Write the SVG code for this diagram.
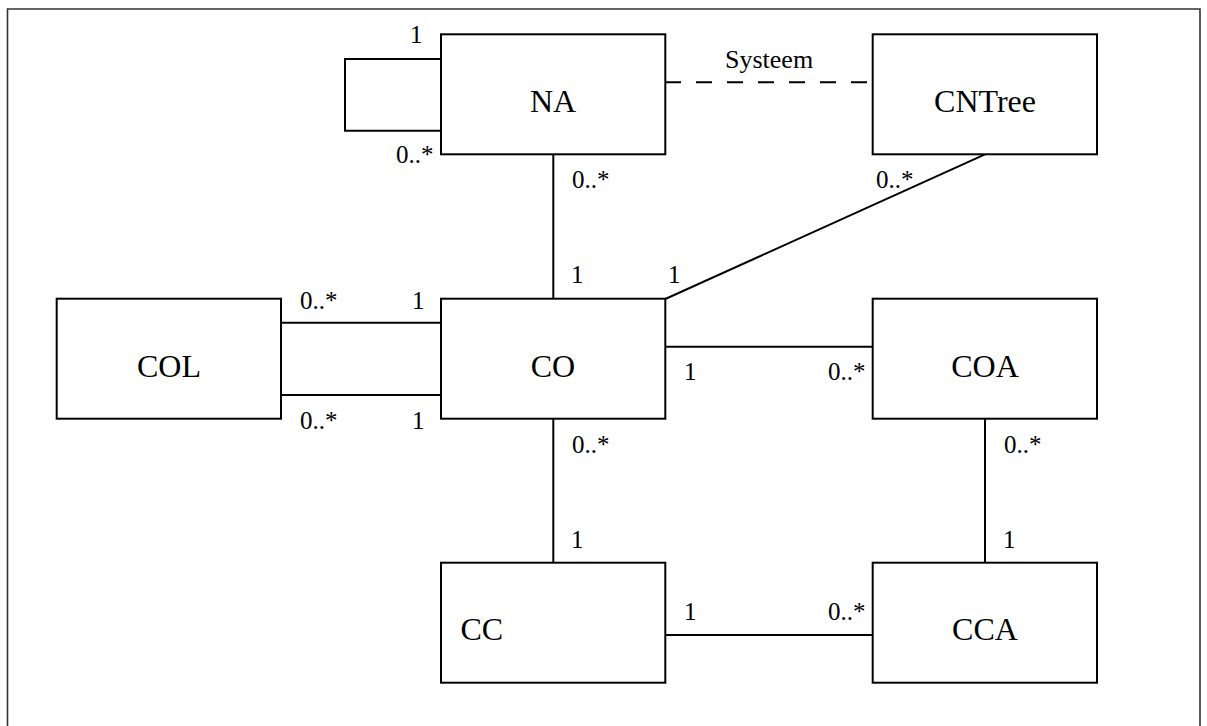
<svg xmlns="http://www.w3.org/2000/svg" width="1207" height="726" viewBox="0 0 1207 726">
  <style>
    .box { fill: #ffffff; stroke: #000000; stroke-width: 2; }
    .edge { fill: none; stroke: #000000; stroke-width: 2; }
    .dashed { stroke-dasharray: 16 15; }
    .frame { fill: none; stroke: #333333; stroke-width: 1.6; }
    .name { font-family: "Liberation Serif", "Times New Roman", serif; font-size: 32px; fill: #000000; }
    .mult { font-family: "Liberation Serif", "Times New Roman", serif; font-size: 25px; fill: #000000; }
    .role { font-family: "Liberation Serif", "Times New Roman", serif; font-size: 26px; fill: #000000; }
  </style>

  <rect x="0" y="0" width="1207" height="726" fill="#ffffff"/>

  <!-- outer frame (open at the bottom) -->
  <path class="frame" d="M7.5,726 V9 H1200 V726"/>

  <!-- associations -->
  <g id="connectors">
    <!-- NA self association -->
    <path class="edge" d="M441,59 H345 V130.7 H441"/>
    <!-- NA - CNTree (dashed) -->
    <line class="edge dashed" x1="665" y1="82.3" x2="873" y2="82.3"/>
    <!-- NA - CO -->
    <line class="edge" x1="553.3" y1="154.3" x2="553.3" y2="299"/>
    <!-- CNTree - CO -->
    <line class="edge" x1="985" y1="154.3" x2="665.3" y2="299"/>
    <!-- COL - CO (two associations) -->
    <line class="edge" x1="281" y1="322.7" x2="441" y2="322.7"/>
    <line class="edge" x1="281" y1="395" x2="441" y2="395"/>
    <!-- CO - COA -->
    <line class="edge" x1="665.3" y1="346.7" x2="873" y2="346.7"/>
    <!-- CO - CC -->
    <line class="edge" x1="553.3" y1="418.3" x2="553.3" y2="562.7"/>
    <!-- COA - CCA -->
    <line class="edge" x1="985" y1="418.7" x2="985" y2="562.7"/>
    <!-- CC - CCA -->
    <line class="edge" x1="665.3" y1="635" x2="873" y2="635"/>
  </g>

  <!-- classes -->
  <g id="NA">
    <rect class="box" x="441" y="34.3" width="224.3" height="120"/>
    <text class="name" x="553" y="112" text-anchor="middle">NA</text>
  </g>
  <g id="CNTree">
    <rect class="box" x="872.7" y="34.3" width="224.3" height="120"/>
    <text class="name" x="985" y="112" text-anchor="middle">CNTree</text>
  </g>
  <g id="COL">
    <rect class="box" x="56.7" y="298.7" width="224.3" height="120"/>
    <text class="name" x="169" y="376.7" text-anchor="middle">COL</text>
  </g>
  <g id="CO">
    <rect class="box" x="441" y="298.7" width="224.3" height="120"/>
    <text class="name" x="553" y="376.7" text-anchor="middle">CO</text>
  </g>
  <g id="COA">
    <rect class="box" x="872.7" y="298.7" width="224.3" height="120"/>
    <text class="name" x="985" y="376.7" text-anchor="middle">COA</text>
  </g>
  <g id="CC">
    <rect class="box" x="441" y="562.7" width="224.3" height="120"/>
    <text class="name" x="460.5" y="640">CC</text>
  </g>
  <g id="CCA">
    <rect class="box" x="872.7" y="562.7" width="224.3" height="120"/>
    <text class="name" x="985" y="640" text-anchor="middle">CCA</text>
  </g>

  <!-- role name and multiplicities -->
  <g id="labels">
    <text class="role" x="725" y="68">Systeem</text>
    <text class="mult" x="410" y="43">1</text>
    <text class="mult" x="396" y="163">0..*</text>
    <text class="mult" x="572" y="188">0..*</text>
    <text class="mult" x="876" y="188">0..*</text>
    <text class="mult" x="571" y="283">1</text>
    <text class="mult" x="668" y="283">1</text>
    <text class="mult" x="300" y="309">0..*</text>
    <text class="mult" x="412" y="309">1</text>
    <text class="mult" x="300" y="429">0..*</text>
    <text class="mult" x="412" y="429">1</text>
    <text class="mult" x="684" y="380">1</text>
    <text class="mult" x="828" y="380">0..*</text>
    <text class="mult" x="572" y="453">0..*</text>
    <text class="mult" x="1004" y="453">0..*</text>
    <text class="mult" x="571" y="548">1</text>
    <text class="mult" x="1003" y="548">1</text>
    <text class="mult" x="684" y="620">1</text>
    <text class="mult" x="828" y="620">0..*</text>
  </g>
</svg>
